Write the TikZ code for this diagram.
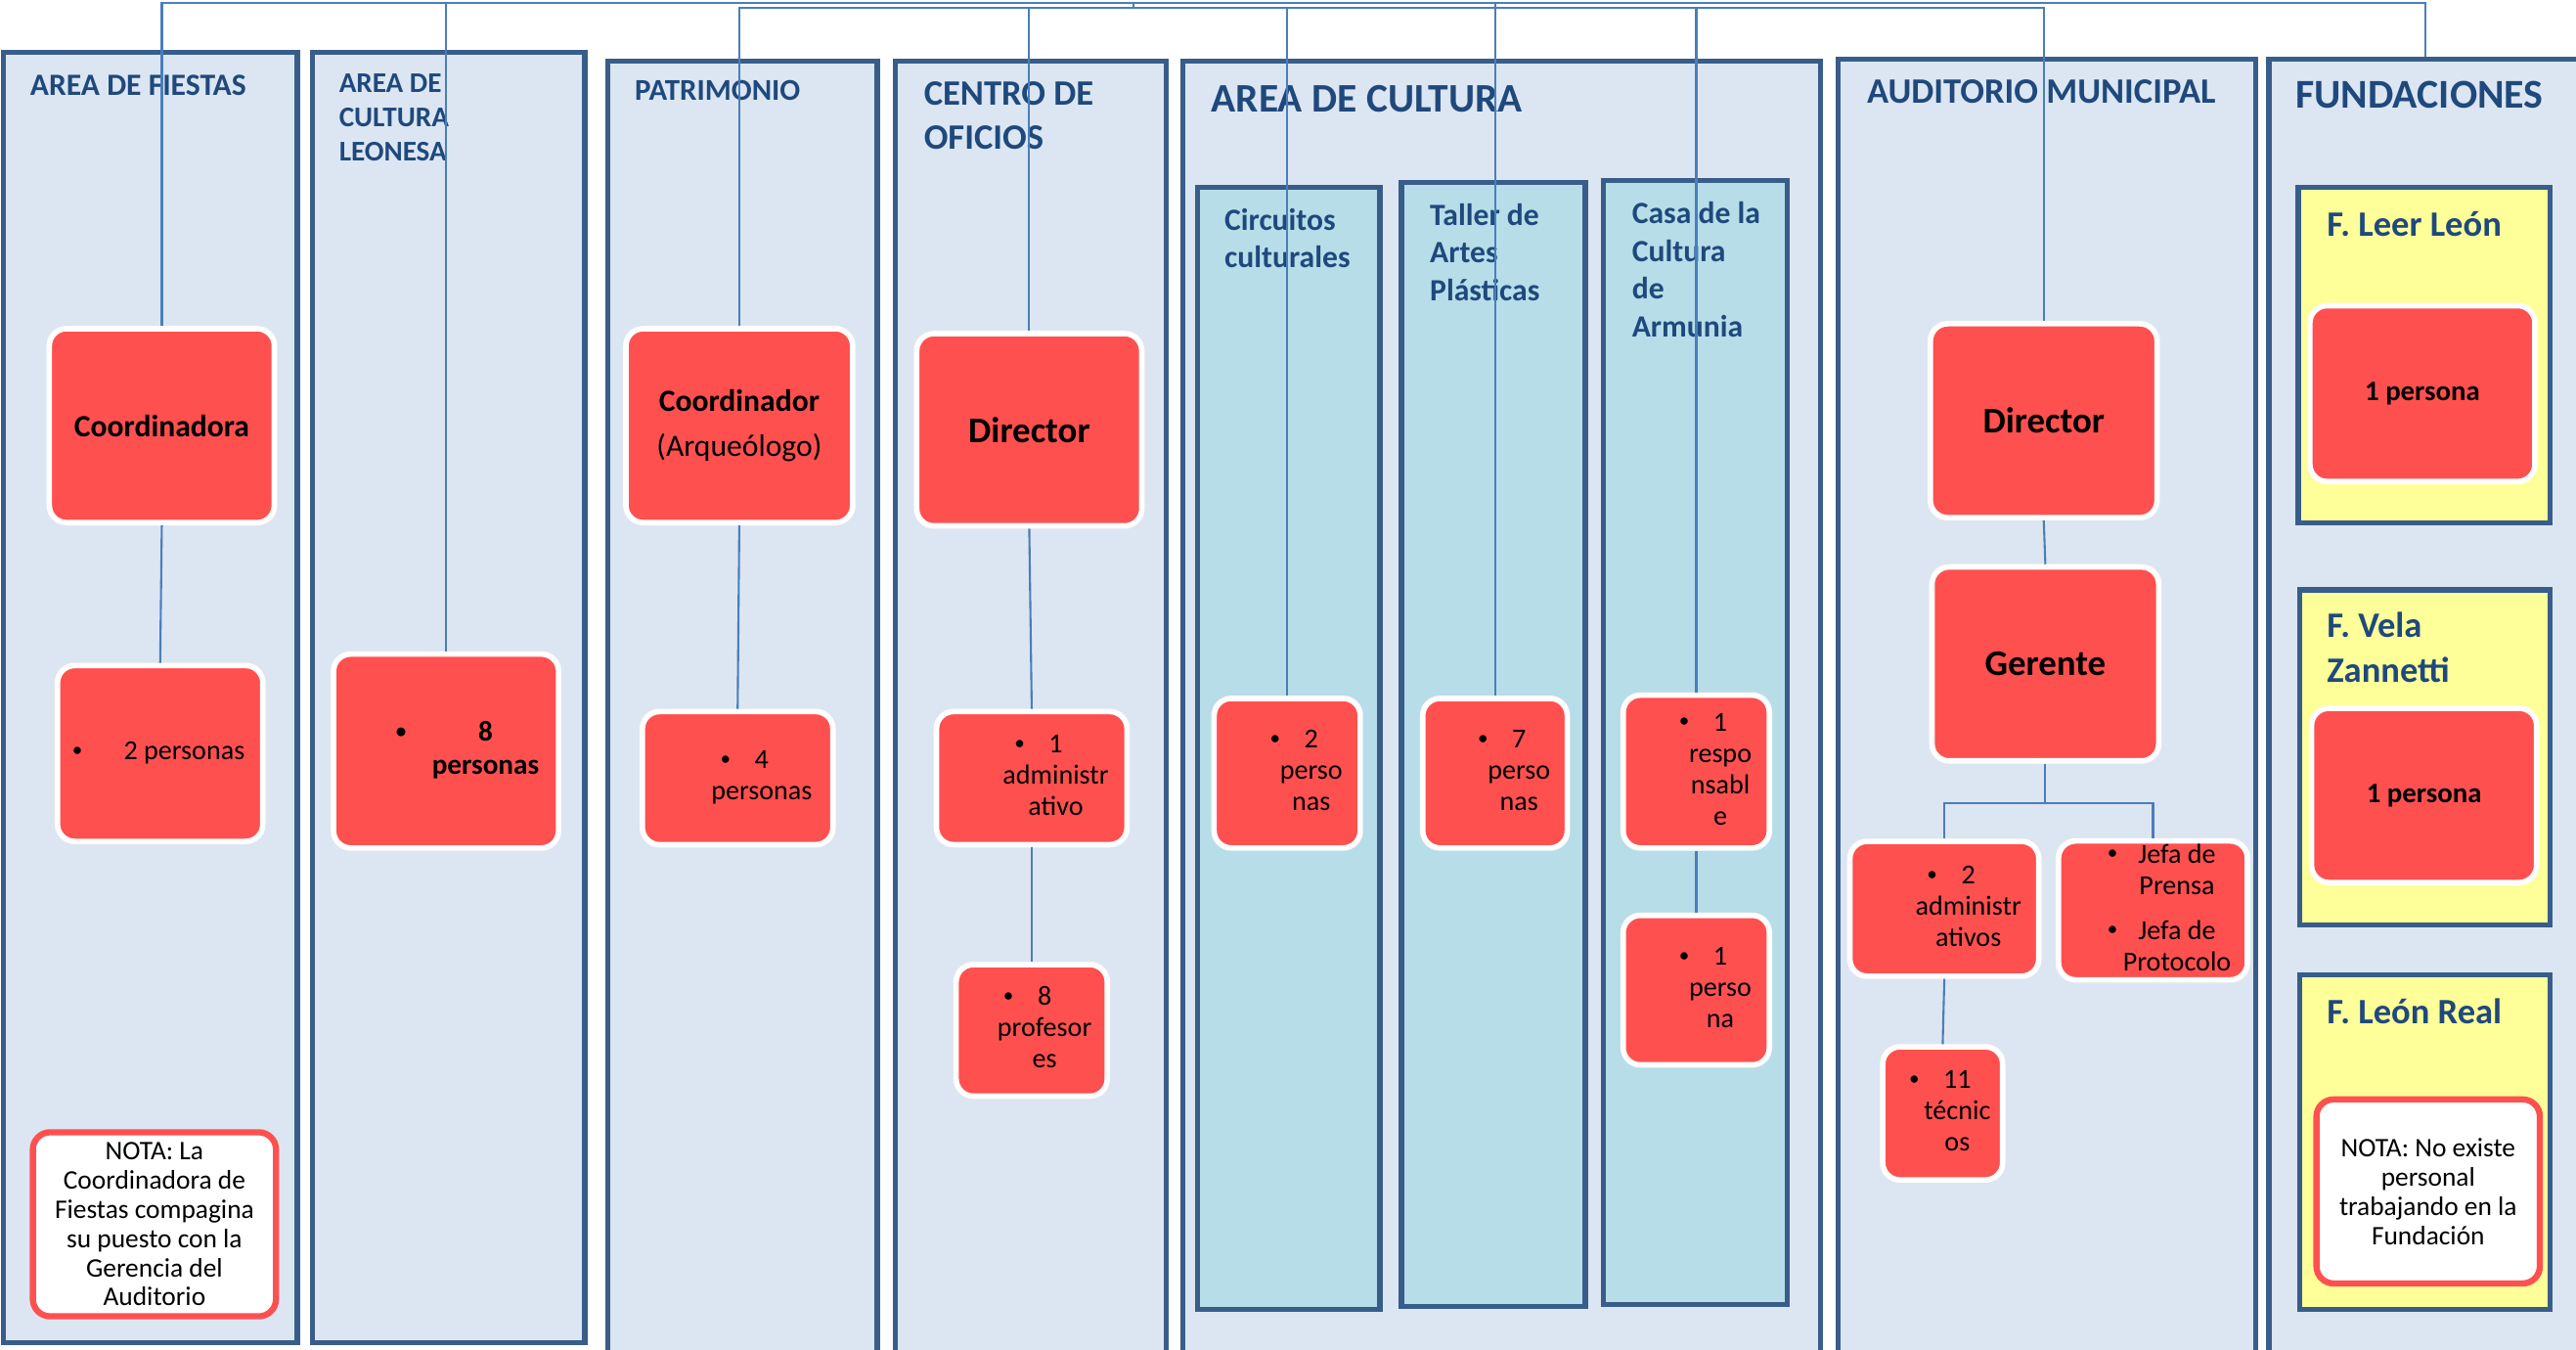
\documentclass[tikz,border=0pt]{standalone}
\usepackage{fontspec}
\setmainfont{Carlito}
\usepackage{tikz}
\usetikzlibrary{arrows}
\definecolor{fondoazul}{RGB}{220,230,242}
\definecolor{bordeazul}{RGB}{56,93,138}
\definecolor{tituloazul}{RGB}{31,73,125}
\definecolor{celeste}{RGB}{183,221,232}
\definecolor{amarillo}{RGB}{255,255,153}
\definecolor{rojo}{RGB}{255,80,80}
\definecolor{linea}{RGB}{74,126,187}
\newcommand{\fs}[2]{\fontsize{#1}{#2}\selectfont}
\newcommand{\punto}[1]{\llap{\raisebox{0.25ex}{\fs{6}{6}\textbullet}\hspace{#1}}}
\newcommand{\vineta}[3][6pt]{\hspace*{#2}\begin{tabular}{@{}c@{}}\punto{#1}#3\end{tabular}}
\tikzset{
  tam/.style 2 args = {minimum width=#1*0.0168cm, minimum height=#2*0.0168cm},
  columna/.style = {draw=bordeazul, line width=1.5pt, fill=fondoazul,
    inner sep=0pt},% area
  subcol/.style = {columna, fill=celeste},% seccion del area de cultura
  fundac/.style = {columna, fill=amarillo},% fundacion
  titulo/.style = {anchor=base west, inner sep=0pt, align=left,
    text=tituloazul},% base = ultima linea
  puesto/.style = {draw=white, line width=1.6pt, fill=rojo,
    rounded corners=5pt, inner sep=0pt, align=center,
    font=\fs{8}{9.1}},% cargo / personal
  nota/.style = {draw=rojo, line width=1.8pt, fill=white,
    rounded corners=5pt, inner sep=0pt, align=center,
    font=\fs{7.8}{8.5}},
  conector/.style = {draw=linea, line width=0.6pt}
}

\begin{document}
\begin{tikzpicture}[x=0.0168cm, y=-0.0168cm]
\useasboundingbox (0,0) rectangle (1568,821);
% columnas
\node[columna, tam={179}{785}] (fiestas) at (91.5,424.5) {};
\node[columna, tam={166}{785}] (leonesa) at (273,424.5) {};
\node[columna, tam={164}{788}] (patrimonio) at (452,431) {};
\node[columna, tam={165}{788}] (oficios) at (627.5,431) {};
\node[columna, tam={388}{788}] (cultura) at (914,431) {};
\node[subcol, tam={111}{683}] (circuitos) at (784.5,455.5) {};
\node[subcol, tam={112}{684}] (taller) at (909,453) {};
\node[subcol, tam={112}{684}] (casa) at (1032,452) {};
\node[columna, tam={254}{789}] (auditorio) at (1246,430.5) {};
\node[columna, tam={191}{789}] (fundaciones) at (1476.5,430.5) {};
\node[fundac, tam={153}{204}] (leer) at (1475.5,216) {};
\node[fundac, tam={152}{204}] (vela) at (1476,461) {};
\node[fundac, tam={152}{204}] (real) at (1476,695) {};

% titulos
\node[titulo, font=\fs{9}{11}\bfseries] (tfiestas) at (18,58) {AREA DE FIESTAS};
\node[titulo, font=\fs{8.3}{10}\bfseries] (tleonesa) at (206,98) {AREA DE\\CULTURA\\LEONESA};
\node[titulo, font=\fs{8.8}{11}\bfseries] (tpatrimonio) at (386,61) {PATRIMONIO};
\node[titulo, font=\fs{10.4}{12.9}\bfseries] (toficios) at (562,91) {CENTRO DE\\OFICIOS};
\node[titulo, font=\fs{11.8}{14}\bfseries] (tcultura) at (737,68) {AREA DE CULTURA};
\node[titulo, font=\fs{10.4}{12.9}\bfseries] (tauditorio) at (1136,63) {AUDITORIO MUNICIPAL};
\node[titulo, font=\fs{11.9}{14}\bfseries] (tfundaciones) at (1397,66) {FUNDACIONES};
\node[titulo, font=\fs{9}{11}\bfseries] (tcircuitos) at (745,163) {Circuitos\\culturales};
\node[titulo, font=\fs{9}{11}\bfseries] (ttaller) at (870,183) {Taller de\\Artes\\Plásticas};
\node[titulo, font=\fs{9}{11}\bfseries] (tcasa) at (993,205) {Casa de la\\Cultura\\de\\Armunia};
\node[titulo, font=\fs{10.4}{12.9}\bfseries] (tleer) at (1416,144) {F. Leer León};
\node[titulo, font=\fs{10.4}{12.9}\bfseries] (tvela) at (1416,415) {F. Vela\\Zannetti};
\node[titulo, font=\fs{10.4}{12.9}\bfseries] (treal) at (1416,623) {F. León Real};

% personal
\node[puesto, tam={137}{118}, font=\fs{9}{11}\bfseries] (coordinadora) at (98.5,259) {Coordinadora};
\node[puesto, tam={125}{107}] (fiestasdos) at (97.5,458.5) {\vineta[12pt]{14pt}{2 personas}};
\node[nota, tam={148}{112}] (notafiestas) at (94,745) {NOTA: La\\Coordinadora de\\Fiestas compagina\\su puesto con la\\Gerencia del\\Auditorio};
\node[puesto, tam={137}{118}, font=\fs{8.3}{9.6}\bfseries] (leonesaocho) at (271.5,457) {\vineta[21pt]{23pt}{8\\personas}};
\node[puesto, tam={138}{118}, font=\fs{9}{13.3}] (coordinador) at (450,259) {\textbf{Coordinador}\\(Arqueólogo)};
\node[puesto, tam={116}{81}] (patricuatro) at (449,473.5) {\vineta[7pt]{14pt}{4\\personas}};
\node[puesto, tam={137}{117}, font=\fs{10.5}{12}\bfseries] (dirloficios) at (626.5,261.5) {Director};
\node[puesto, tam={116}{81}] (administrativo) at (628,473.5) {\vineta[7pt]{14pt}{1\\administr\\ativo}};
\node[puesto, tam={92}{80}] (profesores) at (628,627) {\vineta[7pt]{7.5pt}{8\\profesor\\es}};
\node[puesto, tam={89}{91}] (circuitosdos) at (783.5,470.5) {\vineta[7pt]{14pt}{2\\perso\\nas}};
\node[puesto, tam={88}{91}] (tallersiete) at (910,470.5) {\vineta[7pt]{14pt}{7\\perso\\nas}};
\node[puesto, tam={89}{93}] (responsable) at (1032.5,469.5) {\vineta[7pt]{14pt}{1\\respo\\nsabl\\e}};
\node[puesto, tam={89}{91}] (casauno) at (1032.5,602.5) {\vineta[7pt]{14pt}{1\\perso\\na}};
\node[puesto, tam={138}{118}, font=\fs{10.5}{12}\bfseries] (dirauditorio) at (1244,256) {Director};
\node[puesto, tam={138}{118}, font=\fs{10.5}{12}\bfseries] (gerente) at (1245,404) {Gerente};
\node[puesto, tam={115}{82}] (adminaud) at (1183.5,553) {\vineta[7pt]{14pt}{2\\administr\\ativos}};
\node[puesto, tam={115}{80}] (jefas) at (1310.5,554) {\vineta[6pt]{14pt}{Jefa de\\Prensa\\[4pt]\punto{6pt}Jefa de\\Protocolo}};
\node[puesto, tam={73}{81}] (tecnicos) at (1182.5,677.5) {\vineta[7pt]{8.5pt}{11\\técnic\\os}};
\node[puesto, tam={137}{107}, font=\fs{8.2}{10}\bfseries] (leeruno) at (1474.5,239.5) {1 persona};
\node[puesto, tam={137}{106}, font=\fs{8.2}{10}\bfseries] (velauno) at (1475.5,484) {1 persona};
\node[nota, tam={136}{112}] (notareal) at (1478,725) {NOTA: No existe\\personal\\trabajando en la\\Fundación};

% conectores
\coordinate (raiz) at (690,2);
\coordinate (raizb) at (690,5);
\draw[conector] (raiz) -- (raizb);
\draw[conector] (raiz) -| (coordinadora.north);
\draw[conector] (raiz) -| (leonesaocho.north);
\draw[conector] (raizb) -| (coordinador.north);
\draw[conector] (raizb) -| (dirloficios.north);
\draw[conector] (raizb) -| (circuitosdos.north);
\draw[conector] (raiz) -| (tallersiete.north);
\draw[conector] (raizb) -| (responsable.north);
\draw[conector] (raizb) -| (dirauditorio.north);
\draw[conector] (raiz) -| (fundaciones.north);
\draw[conector] (coordinadora.south) -- (fiestasdos.north);
\draw[conector] (coordinador.south) -- (patricuatro.north);
\draw[conector] (dirloficios.south) -- (administrativo.north);
\draw[conector] (administrativo.south) -- (profesores.north);
\draw[conector] (responsable.south) -- (casauno.north);
\draw[conector] (dirauditorio.south) -- (gerente.north);
\draw[conector] (gerente.south) -- ++(0,24) coordinate (rama) -| (adminaud.north);
\draw[conector] (rama) -| (jefas.north);
\draw[conector] (adminaud.south) -- (tecnicos.north);
\end{tikzpicture}
\end{document}
